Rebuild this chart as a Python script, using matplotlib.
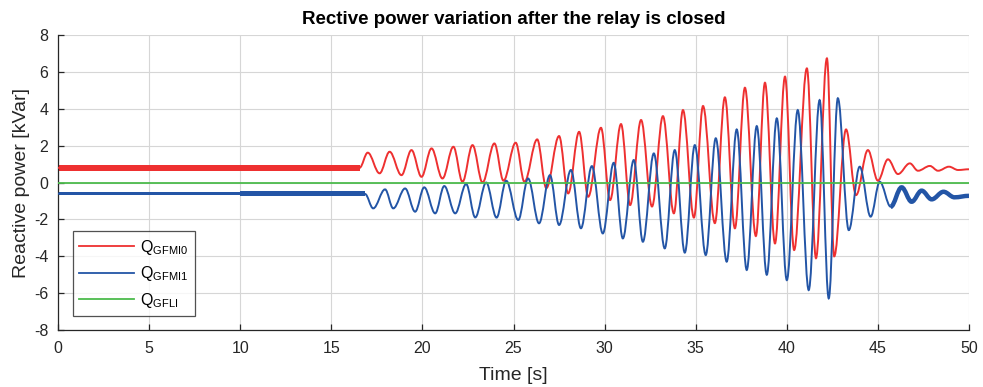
import matplotlib
matplotlib.use("Agg")
import matplotlib.pyplot as plt
from matplotlib.path import Path
from matplotlib.patches import PathPatch
from matplotlib.lines import Line2D

plt.rcParams['font.family'] = ['Liberation Sans', 'DejaVu Sans']
plt.rcParams['axes.unicode_minus'] = False

# ---- data (peaks / troughs, seconds & kVar) ----
t_red = [0.0, 16.55, 17.0, 17.65, 18.2, 18.85, 19.4, 19.95, 20.5, 21.1, 21.7, 22.2,
         22.75, 23.3, 23.95, 24.45, 25.12, 25.6, 26.3, 26.8, 27.5, 28.0, 28.6, 29.1,
         29.8, 30.3, 30.9, 31.4, 32.0, 32.6, 33.2, 33.8, 34.3, 34.9, 35.4, 36.05,
         36.6, 37.15, 37.7, 38.3, 38.8, 39.35, 39.9, 40.4, 41.1, 41.6, 42.2, 42.6,
         43.25, 43.8, 44.45, 45.0, 45.55, 46.1, 46.75, 47.2, 47.85, 48.3, 48.9,
         49.4, 50.0]
q_red = [0.8, 0.8, 1.62, 0.5, 1.67, 0.4, 1.76, 0.31, 1.85, 0.22, 1.94, 0.04,
         2.03, 0.0, 2.12, 0.1, 2.16, 0.04, 2.34, -0.3, 2.52, -0.59, 2.75, -0.77,
         2.97, -0.95, 3.17, -1.22, 3.39, -1.3, 3.6, -1.67, 3.93, -1.9, 4.15, -2.2,
         4.62, -2.48, 5.14, -2.9, 5.41, -3.3, 5.74, -3.66, 6.19, -4.1, 6.73, -4.0,
         2.88, -0.68, 1.76, 0.1, 1.26, 0.46, 1.04, 0.64, 0.9, 0.64, 0.86,
         0.68, 0.72]

t_blue = [0.0, 16.85, 17.3, 17.95, 18.4, 19.05, 19.6, 20.1, 20.7, 21.2, 21.8, 22.4,
          22.9, 23.5, 24.07, 24.6, 25.26, 25.8, 26.4, 27.0, 27.5, 28.15, 28.7, 29.3,
          29.9, 30.5, 31.0, 31.6, 32.1, 32.7, 33.3, 33.85, 34.4, 34.95, 35.55, 36.1,
          36.7, 37.25, 37.8, 38.35, 38.9, 39.45, 40.0, 40.6, 41.2, 41.8, 42.3, 42.8,
          43.4, 44.0, 44.6, 45.1, 45.7, 46.3, 46.85, 47.4, 47.95, 48.6, 49.2, 50.0]
q_blue = [-0.6, -0.62, -1.4, -0.37, -1.4, -0.32, -1.58, -0.26, -1.67, -0.19, -1.67, -0.08,
          -1.89, 0.0, -1.9, 0.1, -2.03, 0.22, -2.21, 0.4, -2.3, 0.68, -2.48, 0.89,
          -2.76, 1.07, -3.03, 1.22, -3.21, 1.58, -3.57, 1.76, -3.8, 2.03, -3.93, 2.4,
          -4.29, 2.88, -4.74, 3.06, -5.0, 3.48, -5.29, 3.93, -5.83, 4.47, -6.28, 4.57,
          -2.58, 0.86, -1.85, 0.04, -1.31, -0.26, -1.04, -0.44, -0.91, -0.5, -0.8, -0.72]

t_green = [0.0, 50.0]
q_green = [0.0, 0.0]

# noisy (measurement ripple) stretches, drawn as bands
red_noise_t = [0.0, 16.55]
red_noise_lo = [0.6, 0.6]
red_noise_hi = [0.97, 0.97]
blue_noise_t = [0.0, 10.0, 10.0, 16.85]
blue_noise_lo = [-0.68, -0.68, -0.72, -0.72]
blue_noise_hi = [-0.52, -0.52, -0.48, -0.48]
blue_tail_t = [45.7, 46.3, 46.85, 47.4, 47.95, 48.6, 49.2, 50.0]
blue_tail_q = [-1.31, -0.26, -1.04, -0.44, -0.91, -0.5, -0.8, -0.72]

labels = [r'Q$_{\mathregular{GFMI0}}$', r'Q$_{\mathregular{GFMI1}}$', r'Q$_{\mathregular{GFLI}}$']
x_ticks = [0, 5, 10, 15, 20, 25, 30, 35, 40, 45, 50]
y_ticks = [-8, -6, -4, -2, 0, 2, 4, 6, 8]

c_red = '#EE3030'
c_blue = '#2355A6'
c_green = '#4CBB4C'


def smooth_path(ts, qs, k=0.36):
    """Cubic Bezier through the read extrema with flat tangents at each one."""
    verts = [(ts[0], qs[0])]
    codes = [Path.MOVETO]
    for i in range(1, len(ts)):
        dt = ts[i] - ts[i - 1]
        verts += [(ts[i - 1] + k * dt, qs[i - 1]), (ts[i] - k * dt, qs[i]), (ts[i], qs[i])]
        codes += [Path.CURVE4, Path.CURVE4, Path.CURVE4]
    return Path(verts, codes)


fig = plt.figure(figsize=(9.83, 3.87), dpi=100)
ax = fig.add_axes([0.059, 0.147, 0.9268, 0.7626])

ax.fill_between(red_noise_t, red_noise_lo, red_noise_hi, color=c_red, lw=0, zorder=2)
ax.fill_between(blue_noise_t, blue_noise_lo, blue_noise_hi, color=c_blue, lw=0, zorder=2)
ax.add_patch(PathPatch(smooth_path(t_red, q_red), fill=False, edgecolor=c_red, lw=1.4,
                       zorder=3, transform=ax.transData))
ax.add_patch(PathPatch(smooth_path(t_blue, q_blue), fill=False, edgecolor=c_blue, lw=1.4,
                       zorder=3, transform=ax.transData))
ax.add_patch(PathPatch(smooth_path(blue_tail_t, blue_tail_q), fill=False, edgecolor=c_blue,
                       lw=3.2, zorder=3, transform=ax.transData))
ax.plot(t_green, q_green, color=c_green, lw=1.3, zorder=4)

ax.set_xlim(0, 50)
ax.set_ylim(-8, 8)
ax.set_xticks(x_ticks)
ax.set_yticks(y_ticks)
ax.grid(True, color='#d6d6d6', lw=0.8)
ax.set_axisbelow(True)
for s in ['top', 'right']:
    ax.spines[s].set_visible(False)
for s in ['left', 'bottom']:
    ax.spines[s].set_color('#262626')
    ax.spines[s].set_linewidth(0.9)
ax.tick_params(direction='in', length=4, width=0.9, colors='#262626', labelsize=11.5)
ax.tick_params(axis='x', pad=8)
ax.tick_params(axis='y', pad=7)

ax.set_title('Rective power variation after the relay is closed', fontsize=13.5,
             fontweight='bold', pad=8)
ax.set_xlabel('Time [s]', fontsize=14, color='#262626', labelpad=8)
ax.set_ylabel('Reactive power [kVar]', fontsize=14, color='#262626', labelpad=3)

handles = [Line2D([], [], color=c_red, lw=1.3),
           Line2D([], [], color=c_blue, lw=1.3),
           Line2D([], [], color=c_green, lw=1.3)]
leg = ax.legend(handles, labels, loc='lower left', bbox_to_anchor=(0.0165, 0.047),
                fontsize=11.5, handlelength=3.4, frameon=True, fancybox=False,
                edgecolor='#262626', borderpad=0.4, labelspacing=0.48, handletextpad=0.4,
                borderaxespad=0)
leg.get_frame().set_linewidth(0.9)

fig.savefig('out.png', dpi=100)
